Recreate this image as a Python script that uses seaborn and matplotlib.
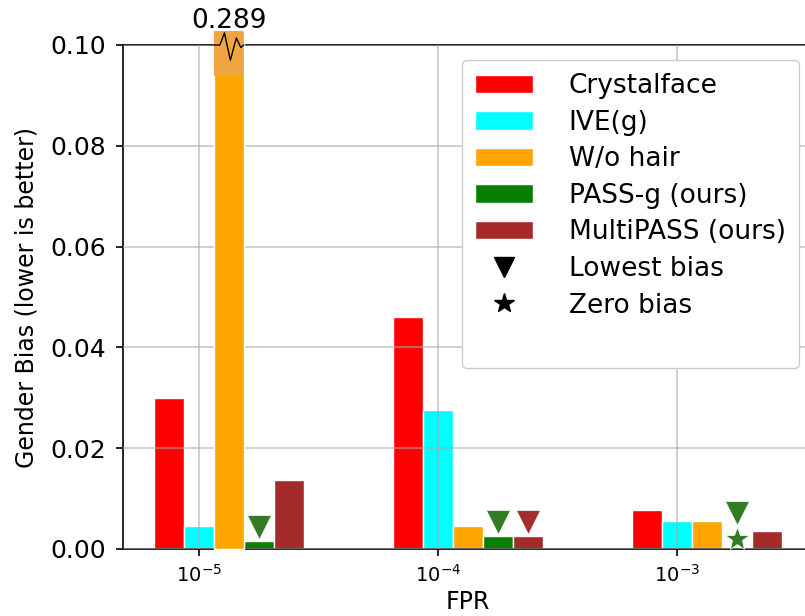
import numpy as np
import pandas as pd
import matplotlib
matplotlib.use("Agg")
import matplotlib.pyplot as plt
import seaborn as sns
from matplotlib.patches import Patch
from matplotlib.lines import Line2D

# ---------------- data ----------------
fpr_labels = [r"$10^{-5}$", r"$10^{-4}$", r"$10^{-3}$"]
methods = ["Crystalface", "IVE(g)", "W/o hair", "PASS-g (ours)", "MultiPASS (ours)"]
colors = ["#ff0000", "#00ffff", "#ffa500", "#087f00", "#a52a2a"]

crystalface = [0.0300, 0.0460, 0.0078]
ive_g = [0.0046, 0.0276, 0.0056]
wo_hair = [0.289, 0.0046, 0.0056]
pass_g = [0.0015, 0.0026, 0.0000]
multipass = [0.0136, 0.0026, 0.0036]

# markers: (group index, method index, y)
lowest_group = [0, 1, 1, 2]
lowest_method = [3, 3, 4, 3]
lowest_y = [0.0044, 0.0053, 0.0053, 0.0071]
zero_group = [2]
zero_method = [3]
zero_y = [0.0020]
marker_colors = {3: "#327d23", 4: "#a33030"}

broken_label = "0.289"

# ---------------- style ----------------
sns.set_style("white")
plt.rcParams["font.family"] = ["DejaVu Sans"]
for k in ["text.color", "axes.labelcolor", "xtick.color", "ytick.color"]:
    plt.rcParams[k] = "black"

fig = plt.figure(figsize=(8.05, 6.16), dpi=100)
ax = fig.add_axes([123 / 805, 67 / 616, (813 - 123) / 805, 504 / 616])

ymax = 0.10
cap = 0.1028  # visual cap for the broken bar

series = [crystalface, ive_g, wo_hair, pass_g, multipass]
rows = []
for m, vals in zip(methods, series):
    for g, v in enumerate(vals):
        rows.append({"FPR": g, "method": m, "value": min(v, cap)})
df = pd.DataFrame(rows)

width_total = 0.625
bw = width_total / len(methods)

sns.barplot(data=df, x="FPR", y="value", hue="method", hue_order=methods,
            palette=dict(zip(methods, colors)), saturation=1, errorbar=None,
            width=width_total, dodge=True, edgecolor="white", linewidth=1,
            ax=ax, legend=False)

# broken bar: allow it to extend above the axes
for p in list(ax.patches):
    if abs(p.get_height() - cap) < 1e-9:
        p.set_clip_on(False)
        p.set_zorder(3)
        xb = p.get_x()
        wb = p.get_width()
        # lighter segment near the top
        ax.bar(xb + wb / 2, cap - 0.0939, bottom=0.0939, width=wb * 0.97,
               color="#efa540", linewidth=0, clip_on=False, zorder=3.1)
        cx = xb + wb / 2
        zx = np.array([-0.5, -0.3, -0.15, 0.05, 0.25, 0.4, 0.5])
        zy = np.array([0.0, 0.0, 0.0024, -0.003, 0.0014, -0.0005, 0.0])
        ax.plot(cx + zx * wb, ymax + zy, color="black", lw=1.0,
                clip_on=False, zorder=4)
        ax.text(cx, cap + 0.0005, broken_label, ha="center", va="baseline",
                fontsize=19)

# positions of bars
def pos(g, mi):
    return g + (mi - (len(methods) - 1) / 2) * bw

for g, mi, y in zip(lowest_group, lowest_method, lowest_y):
    ax.plot(pos(g, mi), y, marker="v", ms=17, color=marker_colors[mi],
            mec="white", mew=0.5, ls="none", zorder=4)
for g, mi, y in zip(zero_group, zero_method, zero_y):
    ax.plot(pos(g, mi), y, marker="*", ms=18, color=marker_colors[mi],
            mec="white", mew=0.5, ls="none", zorder=4)

# axes
ax.set_xlim(-0.318 - bw, 2.569 - bw)
ax.set_ylim(0, ymax)
tick_pos = [pos(g, 1) for g in range(len(fpr_labels))]
ax.set_xticks(tick_pos)
ax.set_xticklabels(fpr_labels, fontsize=14)
ax.set_yticks([0.00, 0.02, 0.04, 0.06, 0.08, 0.10])
ax.set_yticklabels([f"{v:.2f}" for v in [0.00, 0.02, 0.04, 0.06, 0.08, 0.10]],
                   fontsize=18)
ax.tick_params(axis="both", direction="out", length=5, width=1.2,
               color="black", left=True, bottom=True)
ax.tick_params(axis="y", pad=7)
ax.tick_params(axis="x", pad=6)
ax.set_axisbelow(False)
ax.grid(True, color="#aaaaaa", alpha=0.6, lw=1.3)
for s in ax.spines.values():
    s.set_color("black")
    s.set_linewidth(1.2)
ax.spines["top"].set_zorder(2.5)

ax.set_xlabel("FPR", fontsize=17, labelpad=3)
ax.set_ylabel("Gender Bias (lower is better)", fontsize=17, labelpad=9)

handles = [Patch(facecolor=c, edgecolor="white", lw=1) for c in colors]
handles += [Line2D([], [], marker="v", color="black", ls="none", ms=14),
            Line2D([], [], marker="*", color="black", ls="none", ms=15),
            Line2D([], [], ls="none")]
labels = methods + ["Lowest bias", "Zero bias", ""]
leg = ax.legend(handles, labels, loc="upper right",
                bbox_to_anchor=(799 / 805, 1 - 60 / 616),
                bbox_transform=fig.transFigure, borderaxespad=0, fontsize=19,
                handlelength=2.2, handleheight=0.7, handletextpad=1.35,
                labelspacing=0.4, borderpad=0.5, frameon=True, fancybox=True,
                framealpha=1)
leg.get_frame().set_edgecolor("#cccccc")
leg.set_zorder(5)

fig.savefig("out.png", dpi=100)
